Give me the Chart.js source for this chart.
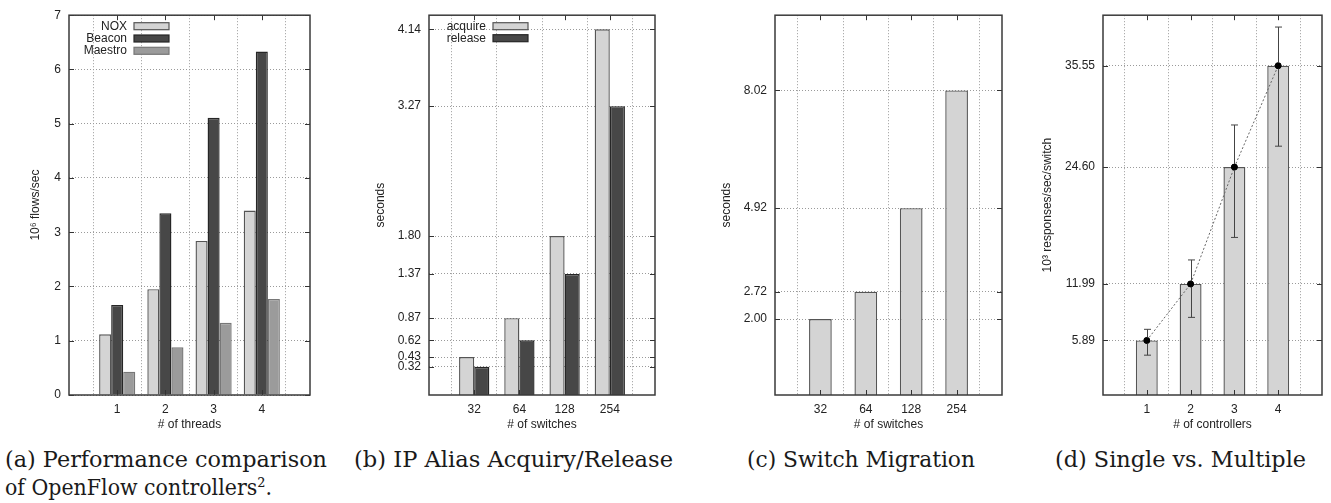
<!DOCTYPE html>
<html><head><meta charset="utf-8">
<script src="https://cdn.jsdelivr.net/npm/chart.js@4"></script>
<style>
html,body{margin:0;padding:0;background:#fff;width:1331px;height:503px;overflow:hidden;position:relative;}
.p{position:absolute;top:0;height:440px;}
.cap{position:absolute;font-family:"DejaVu Serif",serif;font-size:23px;line-height:28px;color:#1a1a1a;white-space:nowrap;transform-origin:0 50%;}
</style></head><body>
<div class="p" style="left:0px;width:335px"><canvas id="ca" width="335" height="440"></canvas></div>
<div class="p" style="left:345px;width:330px"><canvas id="cb" width="330" height="440"></canvas></div>
<div class="p" style="left:690px;width:330px"><canvas id="cc" width="330" height="440"></canvas></div>
<div class="p" style="left:1020px;width:311px"><canvas id="cd" width="311" height="440"></canvas></div>

<div class="cap" data-w="322" style="left:5px;top:445px">(a) Performance comparison</div>
<div class="cap" data-w="267" style="left:5px;top:473px">of OpenFlow controllers².</div>
<div class="cap" data-w="319" style="left:354px;top:445px">(b) IP Alias Acquiry/Release</div>
<div class="cap" data-w="228" style="left:747px;top:445px">(c) Switch Migration</div>
<div class="cap" data-w="251" style="left:1055px;top:445px">(d) Single vs. Multiple</div>

<script>
// ---------- data ----------
const threads = ['1','2','3','4'];
const noxRate = [1.12, 1.95, 2.84, 3.40];
const beaconRate = [1.66, 3.35, 5.11, 6.33];
const maestroRate = [0.43, 0.88, 1.33, 1.77];
const yTicksA = [0, 1, 2, 3, 4, 5, 6, 7];

const switchCounts = ['32','64','128','254'];
const acquireSec = [0.43, 0.87, 1.80, 4.14];
const releaseSec = [0.32, 0.62, 1.37, 3.27];
const yTicksB = [0.32, 0.43, 0.62, 0.87, 1.37, 1.80, 3.27, 4.14];

const migrationSec = [2.00, 2.72, 4.92, 8.02];
const yTicksC = [2.00, 2.72, 4.92, 8.02];

const controllers = ['1','2','3','4'];
const respRate = [5.89, 11.99, 24.60, 35.55];
const respLow = [4.30, 8.38, 17.01, 26.86];
const respHigh = [7.09, 14.58, 29.15, 39.72];
const yTicksD = [5.89, 11.99, 24.60, 35.55];

// ---------- helpers ----------
const padLabels = a => ['', ...a, ''];
const padData = a => [null, ...a, null];
const FONT = {family: '"Liberation Sans", Arial, sans-serif', size: 12};
const TXT = '#222';

const framePlugin = {
  id: 'frame',
  afterDraw(chart) {
    const {ctx, chartArea: a, scales} = chart;
    ctx.save();
    ctx.strokeStyle = '#333';
    ctx.lineWidth = 1;
    ctx.beginPath();
    scales.y.ticks.forEach(t => {
      const y = Math.round(scales.y.getPixelForValue(t.value)) + 0.5;
      ctx.moveTo(a.left, y); ctx.lineTo(a.left + 5, y);
      ctx.moveTo(a.right, y); ctx.lineTo(a.right - 5, y);
    });
    const n = chart.data.labels.length;
    for (let i = 1; i < n - 1; i++) {
      const x = Math.round(scales.x.getPixelForValue(i)) + 0.5;
      ctx.moveTo(x, a.bottom); ctx.lineTo(x, a.bottom - 5);
      ctx.moveTo(x, a.top); ctx.lineTo(x, a.top + 5);
    }
    ctx.stroke();
    ctx.lineWidth = 1.5;
    ctx.strokeStyle = '#3a3a3a';
    ctx.strokeRect(a.left, a.top, a.right - a.left, a.bottom - a.top);
    ctx.restore();
  }
};

const boxLegendPlugin = {
  id: 'boxLegend',
  afterDraw(chart, args, opts) {
    if (!opts || !opts.show) return;
    const {ctx, chartArea: a} = chart;
    ctx.save();
    ctx.font = '12px ' + FONT.family;
    ctx.textAlign = 'right';
    ctx.textBaseline = 'middle';
    chart.data.datasets.forEach((ds, i) => {
      const y = a.top + opts.y0 + i * opts.step;
      const xr = a.left + opts.textRight;
      ctx.fillStyle = TXT;
      ctx.fillText(ds.label, xr, y);
      ctx.fillStyle = ds.backgroundColor;
      ctx.fillRect(xr + 7, y - 3.5, 35, 7);
      ctx.strokeStyle = ds.borderColor;
      ctx.lineWidth = 1.2;
      ctx.strokeRect(xr + 7, y - 3.5, 35, 7);
    });
    ctx.restore();
  }
};

const errorBarPlugin = {
  id: 'errorBars',
  afterDraw(chart, args, opts) {
    if (!opts || !opts.low) return;
    const {ctx, scales} = chart;
    ctx.save();
    ctx.strokeStyle = '#444';
    ctx.lineWidth = 1;
    ctx.beginPath();
    opts.low.forEach((lo, i) => {
      const x = Math.round(scales.x.getPixelForValue(i + 1)) + 0.5;
      const y1 = scales.y.getPixelForValue(lo);
      const y2 = scales.y.getPixelForValue(opts.high[i]);
      ctx.moveTo(x, y1); ctx.lineTo(x, y2);
      ctx.moveTo(x - 3.5, y1); ctx.lineTo(x + 3.5, y1);
      ctx.moveTo(x - 3.5, y2); ctx.lineTo(x + 3.5, y2);
    });
    ctx.stroke();
    const meta = chart.getDatasetMeta(opts.lineIndex);
    ctx.fillStyle = '#000';
    meta.data.forEach(pt => {
      if (pt.skip) return;
      ctx.beginPath(); ctx.arc(pt.x, pt.y, 3, 0, Math.PI * 2); ctx.fill();
    });
    ctx.restore();
  }
};

function makeOptions(c) {
  const gridCfg = {color: '#9a9a9a', lineWidth: 1, drawTicks: false};
  return {
    responsive: false,
    animation: false,
    events: [],
    layout: {padding: {top: 13, right: c.padRight, left: 0, bottom: 0}},
    plugins: {
      legend: {display: false},
      tooltip: {enabled: false},
      boxLegend: c.legend || {show: false},
      errorBars: c.errorBars || {}
    },
    datasets: {bar: {categoryPercentage: c.catPct, barPercentage: 1, borderWidth: 1.4}},
    scales: {
      x: {
        type: 'category', offset: false, z: 1,
        grid: gridCfg,
        border: {display: false, dash: [1, 2]},
        ticks: {font: FONT, color: TXT, padding: 7, autoSkip: false, maxRotation: 0},
        title: {display: true, text: c.xTitle, font: FONT, color: TXT, padding: {top: 0, bottom: 8}},
        afterFit: s => { s.height = 45; }
      },
      y: {
        type: 'linear', min: 0, max: c.yMax, z: 1,
        grid: gridCfg,
        border: {display: false, dash: [1, 2]},
        afterBuildTicks: s => { s.ticks = c.yTicks.map(v => ({value: v})); },
        ticks: {font: FONT, color: TXT, padding: 8, autoSkip: false, callback: v => c.fmt(v)},
        title: {display: true, text: c.yTitle, font: FONT, color: TXT, padding: {top: c.yTitlePad, bottom: 0}},
        afterFit: s => { s.width = c.yWidth; }
      }
    }
  };
}

const plugins = [framePlugin, boxLegendPlugin, errorBarPlugin];

// (a)
new Chart(document.getElementById('ca'), {
  type: 'bar',
  data: {
    labels: padLabels(threads),
    datasets: [
      {label: 'NOX', data: padData(noxRate), backgroundColor: '#d4d4d4', borderColor: '#555'},
      {label: 'Beacon', data: padData(beaconRate), backgroundColor: '#474747', borderColor: '#262626'},
      {label: 'Maestro', data: padData(maestroRate), backgroundColor: '#9b9b9b', borderColor: '#777'}
    ]
  },
  options: makeOptions({
    padRight: 25, yWidth: 69, yTitlePad: 28, yMax: 7, yTicks: yTicksA, fmt: v => String(v),
    catPct: 0.75, xTitle: '# of threads', yTitle: '10⁶ flows/sec',
    legend: {show: true, textRight: 58, y0: 11, step: 12.3}
  }),
  plugins
});

// (b)
new Chart(document.getElementById('cb'), {
  type: 'bar',
  data: {
    labels: padLabels(switchCounts),
    datasets: [
      {label: 'acquire', data: padData(acquireSec), backgroundColor: '#d4d4d4', borderColor: '#555'},
      {label: 'release', data: padData(releaseSec), backgroundColor: '#474747', borderColor: '#262626'}
    ]
  },
  options: makeOptions({
    padRight: 20, yWidth: 84, yTitlePad: 28.5, yMax: 4.3, yTicks: yTicksB, fmt: v => v.toFixed(2),
    catPct: 0.67, xTitle: '# of switches', yTitle: 'seconds',
    legend: {show: true, textRight: 57, y0: 11, step: 12}
  }),
  plugins
});

// (c)
new Chart(document.getElementById('cc'), {
  type: 'bar',
  data: {
    labels: padLabels(switchCounts),
    datasets: [
      {label: 'migration', data: padData(migrationSec), backgroundColor: '#d4d4d4', borderColor: '#555'}
    ]
  },
  options: makeOptions({
    padRight: 18, yWidth: 85, yTitlePad: 29.5, yMax: 10, yTicks: yTicksC, fmt: v => v.toFixed(2),
    catPct: 0.5, xTitle: '# of switches', yTitle: 'seconds'
  }),
  plugins
});

// (d)
new Chart(document.getElementById('cd'), {
  type: 'bar',
  data: {
    labels: padLabels(controllers),
    datasets: [
      {type: 'line', label: 'mean', data: padData(respRate), borderColor: '#666', borderWidth: 1,
       borderDash: [2, 2], pointRadius: 3, pointBackgroundColor: '#000', pointBorderColor: '#000',
       tension: 0, spanGaps: false, fill: false, order: 0},
      {label: 'responses', data: padData(respRate), backgroundColor: '#d4d4d4', borderColor: '#555', order: 1}
    ]
  },
  options: makeOptions({
    padRight: 9, yWidth: 83, yTitlePad: 20, yMax: 41, yTicks: yTicksD, fmt: v => v.toFixed(2),
    catPct: 0.5, xTitle: '# of controllers', yTitle: '10³ responses/sec/switch',
    errorBars: {low: respLow, high: respHigh, lineIndex: 0}
  }),
  plugins
});

// fit caption widths
document.querySelectorAll('.cap').forEach(el => {
  const w = el.getBoundingClientRect().width;
  const target = +el.dataset.w;
  if (w > 0) el.style.transform = 'scaleX(' + (target / w).toFixed(4) + ')';
});
</script>
</body></html>
